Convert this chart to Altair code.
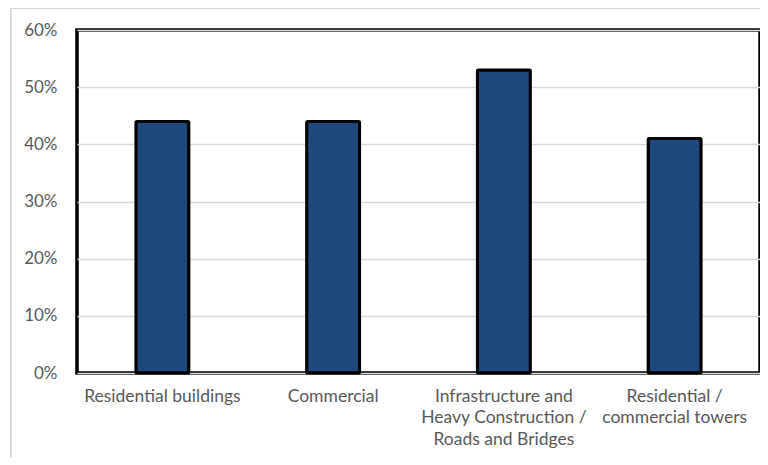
import altair as alt
import pandas as pd

categories = [
    "Residential buildings",
    "Commercial",
    "Infrastructure and|Heavy Construction /|Roads and Bridges",
    "Residential /|commercial towers",
]
values = [0.44, 0.44, 0.53, 0.41]

df = pd.DataFrame({"category": categories, "value": values})

FONT = "Lato"
GREY = "#595959"

bars = alt.Chart(df).mark_bar(
    color="#1F497D", stroke="black", strokeWidth=3, cornerRadius=1
).encode(
    x=alt.X(
        "category:N",
        sort=categories,
        scale=alt.Scale(paddingInner=0.69, paddingOuter=0.345),
        axis=alt.Axis(
            title=None,
            labelAngle=0,
            labelExpr="split(datum.label, '|')",
            labelFont=FONT,
            labelFontSize=17.5,
            labelColor=GREY,
            labelLineHeight=21.5,
            labelLimit=300,
            labelPadding=14,
            ticks=False,
            domain=False,
            labelBaseline="top",
        ),
    ),
    y=alt.Y(
        "value:Q",
        scale=alt.Scale(domain=[0, 0.6], nice=False),
        axis=alt.Axis(
            title=None,
            format=".0%",
            values=[0, 0.1, 0.2, 0.3, 0.4, 0.5, 0.6],
            labelFont=FONT,
            labelFontSize=17,
            labelColor=GREY,
            labelPadding=20,
            ticks=False,
            domain=False,
            gridColor="#D9D9D9",
            gridWidth=1.5,
        ),
    ),
)

# light grey outer frame of the chart area (top and left edges)
frame_top = alt.Chart(df).mark_rule(color="#D9D9D9", strokeWidth=1.5, clip=False).encode(
    x=alt.value(-67), x2=alt.value(700), y=alt.value(-22)
)
frame_left = alt.Chart(df).mark_rule(color="#D9D9D9", strokeWidth=1.5, clip=False).encode(
    x=alt.value(-66), y=alt.value(-22), y2=alt.value(430)
)

chart = alt.layer(frame_top, frame_left, bars).properties(
    width=683,
    height=343,
    autosize=alt.AutoSizeParams(type="none"),
    padding={"left": 69, "top": 22, "right": 0, "bottom": 84},
).configure_view(stroke="black", strokeWidth=3.5)

chart.save("out.html", embed_options={"renderer": "svg", "actions": False})
